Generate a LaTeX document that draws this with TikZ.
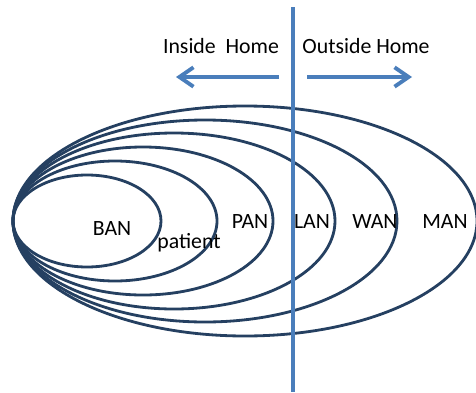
\documentclass[tikz,border=0pt]{standalone}
\usepackage{fontspec}
\setmainfont{Carlito}
\usetikzlibrary{arrows.meta}
\definecolor{ringcol}{HTML}{254061}
\definecolor{homecol}{HTML}{4A7EBB}
\tikzset{
	ring/.style={draw=ringcol, line width=1.6pt},
	homeline/.style={draw=homecol, line width=2.2pt},
	lbl/.style={anchor=base, inner sep=0pt, font=\fontsize{12.4}{14}\selectfont}
}
\begin{document}
\begin{tikzpicture}[x=0.02cm, y=-0.02cm]

	\useasboundingbox (0,0) rectangle (476,392);

	% rings, all touching at the left
	\foreach \rx / \ry in {
	74/46,
	102/60,
	130/74,
	161/88,
	192/101,
	232/115}
	{
		\draw[ring] (13+\rx,221) ellipse [x radius=\rx, y radius=\ry];
	};

	\node[lbl] (ban) at (112,235) {BAN};
	\node[lbl] (pat) at (189,248) {patient};
	\node[lbl] (pan) at (250,228) {PAN};
	\node[lbl] (lan) at (312,228) {LAN};
	\node[lbl] (wan) at (375,228) {WAN};
	\node[lbl] (man) at (445,228) {MAN};

	% home border
	\coordinate (top) at (293,7);
	\coordinate (bot) at (293,392);
	\path[homeline] (top) -- (bot);

	\node[lbl] (inside) at (221,53) {Inside~ Home};
	\node[lbl] (outside) at (366,53) {Outside Home};

	\coordinate (l1) at (279,77);
	\coordinate (l2) at (176,77);
	\coordinate (r1) at (307,77);
	\coordinate (r2) at (412,77);
	\foreach \i / \j in {l1/l2, r1/r2}
	{
		\draw[homeline, -{Straight Barb[length=8pt, width=11pt]}] (\i) -- (\j);
	};
\end{tikzpicture}
\end{document}
